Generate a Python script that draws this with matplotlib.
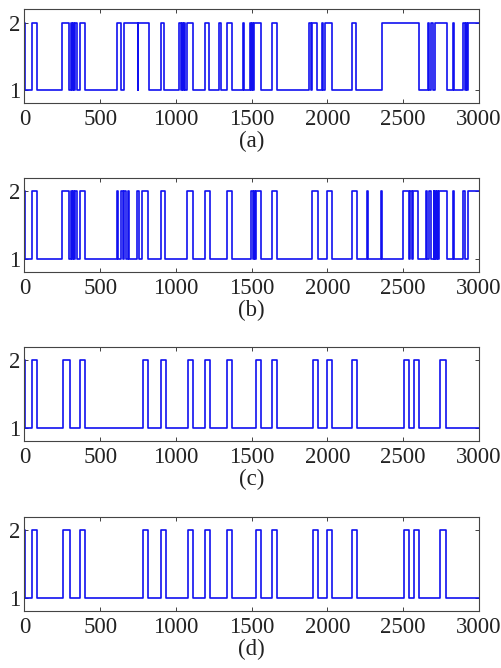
import numpy as np
import matplotlib
matplotlib.use("Agg")
import matplotlib.pyplot as plt

# ---- data: rising / falling edge times of each binary (1/2) signal ----
x_max = 3000
x_ticks = [0, 500, 1000, 1500, 2000, 2500, 3000]
y_ticks = [1, 2]
panel_labels = ["(a)", "(b)", "(c)", "(d)"]

a_rise = [0, 51, 250, 307, 320, 333, 366, 608, 655, 752, 899, 1022, 1040, 1055, 1070,
          1193, 1286, 1339, 1440, 1488, 1500, 1515, 1631, 1880, 1898, 1961, 1982, 2159,
          2357, 2661, 2683, 2712, 2826, 2896, 2912, 2928]
a_fall = [2, 80, 296, 313, 327, 344, 397, 640, 747, 822, 923, 1030, 1048, 1062, 1114,
          1220, 1299, 1372, 1450, 1495, 1508, 1560, 1668, 1890, 1928, 1972, 2027, 2188,
          2605, 2672, 2698, 2786, 2835, 2905, 2920, 3000]

b_rise = [0, 51, 250, 307, 320, 333, 366, 608, 635, 660, 680, 745, 773, 899, 1070,
          1193, 1339, 1495, 1512, 1525, 1631, 1900, 1995, 2159, 2263, 2351, 2496, 2543,
          2562, 2648, 2672, 2700, 2712, 2724, 2736, 2826, 2896, 2925]
b_fall = [2, 80, 296, 313, 327, 344, 397, 620, 650, 672, 690, 754, 817, 925, 1110,
          1224, 1370, 1505, 1520, 1560, 1668, 1935, 2027, 2193, 2270, 2358, 2535, 2555,
          2599, 2655, 2685, 2706, 2718, 2730, 2786, 2835, 2905, 3000]

c_rise = [0, 51, 252, 366, 780, 899, 1077, 1191, 1339, 1525, 1631, 1902, 1995, 2159,
          2505, 2571, 2742]
c_fall = [2, 85, 300, 399, 817, 932, 1114, 1224, 1372, 1560, 1668, 1935, 2032, 2197,
          2540, 2604, 2780]

d_rise = [0, 51, 252, 366, 780, 899, 1077, 1191, 1339, 1525, 1631, 1902, 1995, 2159,
          2505, 2571, 2742]
d_fall = [2, 85, 300, 399, 817, 932, 1114, 1224, 1372, 1560, 1668, 1935, 2032, 2197,
          2540, 2604, 2780]

signals = [(a_rise, a_fall), (b_rise, b_fall), (c_rise, c_fall), (d_rise, d_fall)]


def step_series(rise, fall, xmax):
    xs, ys = [], []
    prev = 0
    for r, f in zip(rise, fall):
        xs += [prev, r, r, f, f]
        ys += [1, 1, 2, 2, 1]
        prev = f
    xs += [prev, xmax]
    ys += [1, 1]
    xs = np.array(xs, dtype=float)
    ys = np.array(ys, dtype=float)
    if xs[-2] >= xmax:  # ends high
        xs, ys = xs[:-2], ys[:-2]
        ys[-1] = 2
    return xs, ys


plt.rcParams['font.family'] = ['Liberation Serif', 'DejaVu Serif']
W, H = 502, 668
fig = plt.figure(figsize=(W / 100, H / 100), dpi=100)

left_px, right_px = 24.5, 479
tops_px = [9.3, 178, 347, 517]
height_px = 94
fs = 16.5

for i, ((rise, fall), lab) in enumerate(zip(signals, panel_labels)):
    top = tops_px[i]
    ax = fig.add_axes([left_px / W, 1 - (top + height_px) / H,
                       (right_px - left_px) / W, height_px / H])
    xs, ys = step_series(rise, fall, x_max)
    ax.plot(xs, ys, color='#1010f0', lw=1.2)
    ax.set_xlim(0, x_max)
    ax.set_ylim(0.8, 2.2)
    ax.set_xticks(x_ticks)
    ax.set_yticks(y_ticks)
    ax.tick_params(direction='in', top=True, right=True, length=3, width=0.6,
                   labelsize=fs, colors='#222222', pad=3)
    ax.tick_params(axis='x', pad=4)
    for s in ax.spines.values():
        s.set_color('#444444')
        s.set_linewidth(0.8)
    ax.set_xlabel(lab, fontsize=fs, labelpad=1, color='#222222')

fig.savefig("out.png", dpi=100)
